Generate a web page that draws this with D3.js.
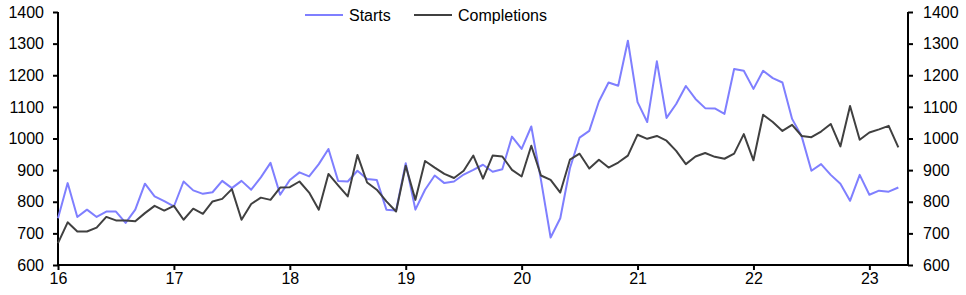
<!DOCTYPE html>
<html>
<head>
<meta charset="utf-8">
<script src="https://cdn.jsdelivr.net/npm/d3@7"></script>
<style>
  body { margin: 0; background: #fff; }
  svg text { font-family: "Liberation Sans", Arial, sans-serif; }
</style>
</head>
<body>
<div id="chart-area"></div>
<script>
// monthly, Jan 2016 to Apr 2023 (thousands, annualised)
var startYear = 16;
var starts = [748, 859, 752, 775, 752, 769, 769, 733, 775, 857, 817, 802,
              785, 864, 836, 825, 830, 866, 843, 866, 838, 877, 923, 822,
              869, 893, 880, 919, 967, 866, 864, 898, 872, 869, 775, 772,
              922, 775, 838, 883, 859, 864, 886, 901, 917, 895, 903, 1006,
              967, 1038, 869, 687, 748, 906, 1003, 1024, 1117, 1177, 1167, 1309,
              1115, 1052, 1244, 1065, 1109, 1166, 1125, 1096, 1095, 1078, 1220, 1214,
              1157, 1214, 1191, 1177, 1062, 1006, 898, 919, 885, 857, 803, 885,
              822, 835, 832, 845];
var completions = [669, 735, 706, 706, 718, 752, 741, 741, 738, 764, 787, 772,
                   787, 743, 778, 762, 801, 809, 840, 743, 793, 813, 806, 845,
                   846, 864, 829, 775, 888, 852, 817, 948, 861, 838, 801, 769,
                   914, 806, 929, 908, 888, 875, 898, 946, 873, 946, 943, 901,
                   880, 977, 883, 869, 829, 933, 952, 905, 933, 908, 924, 946,
                   1012, 999, 1008, 993, 961, 919, 943, 954, 942, 936, 952, 1014,
                   931, 1075, 1052, 1024, 1043, 1008, 1004, 1022, 1046, 975, 1103, 996,
                   1019, 1029, 1040, 972];
var seriesNames = ["Starts", "Completions"];
var seriesColors = ["#7f7fff", "#404040"];
var yearTicks = [16, 17, 18, 19, 20, 21, 22, 23];
var valueTicks = [600, 700, 800, 900, 1000, 1100, 1200, 1300, 1400];

var margin = { left: 58, right: 58, top: 12, bottom: 30 };
var width = 966 - margin.left - margin.right,
    height = 295 - margin.top - margin.bottom;

var svg = d3.select("#chart-area")
    .append("svg")
        .attr("width", 966)
        .attr("height", 295);

var g = svg.append("g")
    .attr("transform", "translate(" + margin.left + "," + margin.top + ")");

var x = d3.scaleLinear()
    .domain([16, 23 + 4 / 12])
    .range([0, width]);

var y = d3.scaleLinear()
    .domain([600, 1400])
    .range([height, 0]);

// axes
var xAxisCall = d3.axisBottom(x)
    .tickValues(yearTicks)
    .tickSize(5)
    .tickPadding(3)
    .tickFormat(function(d) { return d; });
var xAxis = g.append("g")
    .attr("transform", "translate(0," + height + ")")
    .call(xAxisCall);

var yAxisCall = d3.axisLeft(y)
    .tickValues(valueTicks)
    .tickSize(5)
    .tickPadding(9)
    .tickFormat(d3.format("d"));
var yAxis = g.append("g").call(yAxisCall);

var y1AxisCall = d3.axisRight(y)
    .tickValues(valueTicks)
    .tickSize(5)
    .tickPadding(10)
    .tickFormat(d3.format("d"));
var y1Axis = g.append("g")
    .attr("transform", "translate(" + width + ",0)")
    .call(y1AxisCall);

[xAxis, yAxis, y1Axis].forEach(function(a) {
    a.select(".domain").attr("stroke", "#000").attr("stroke-width", 2);
    a.selectAll(".tick line").attr("stroke", "#000").attr("stroke-width", 2);
    a.selectAll(".tick text")
        .attr("fill", "#000")
        .attr("font-size", "16px")
        .style("font-family", "'Liberation Sans', Arial, sans-serif");
});
// no outer ticks on the domain paths
xAxis.select(".domain").attr("d", "M0,0H" + width);
yAxis.select(".domain").attr("d", "M0,0V" + height);
y1Axis.select(".domain").attr("d", "M0,0V" + height);

// lines
var line = d3.line()
    .x(function(d, i) { return x(startYear + i / 12); })
    .y(function(d) { return y(d); });

[starts, completions].forEach(function(s, k) {
    g.append("path")
        .datum(s)
        .attr("fill", "none")
        .attr("stroke", seriesColors[k])
        .attr("stroke-width", 2)
        .attr("stroke-linejoin", "round")
        .attr("d", line);
});

// legend
var legendX = [305, 414];
seriesNames.forEach(function(name, k) {
    var lg = svg.append("g")
        .attr("transform", "translate(" + legendX[k] + ",15)");
    lg.append("line")
        .attr("x1", 0).attr("x2", 38)
        .attr("y1", 0).attr("y2", 0)
        .attr("stroke", seriesColors[k])
        .attr("stroke-width", 2);
    lg.append("text")
        .attr("x", 44)
        .attr("y", 6)
        .attr("font-size", "16px")
        .attr("fill", "#000")
        .text(name);
});
</script>
</body>
</html>
